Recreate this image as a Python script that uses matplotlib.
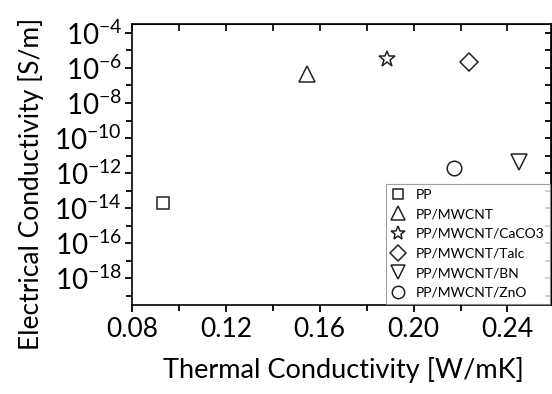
import numpy as np
import matplotlib.pyplot as plt
from matplotlib.ticker import MultipleLocator, FixedLocator, NullFormatter

labels = ["PP", "PP/MWCNT", "PP/MWCNT/CaCO3", "PP/MWCNT/Talc", "PP/MWCNT/BN", "PP/MWCNT/ZnO"]
thermal = [0.0932, 0.1545, 0.1885, 0.2234, 0.2451, 0.2174]
electrical = [2.0e-14, 4.8e-7, 3.2e-6, 2.2e-6, 4.3e-12, 2.0e-12]
markers = ["s", "^", "*", "D", "v", "o"]
sizes = [8.5, 11.5, 12, 9, 11.5, 10.5]

plt.rcParams.update({"font.family": ["Lato", "DejaVu Sans"], "font.size": 15,
                     "mathtext.fontset": "custom", "mathtext.rm": "Lato",
                     "mathtext.it": "Lato:italic", "mathtext.bf": "Lato:bold"})

fig = plt.figure(figsize=(5.52, 3.94), dpi=100)
ax = fig.add_axes([0.239, 0.226, 0.759, 0.713])

for x, y, m, s, lab in zip(thermal, electrical, markers, sizes, labels):
    ax.plot([x], [y], linestyle="none", marker=m, markersize=s, markerfacecolor="none",
            markeredgecolor="#222222", markeredgewidth=1.1, label=lab)

ax.set_yscale("log")
ax.set_xlim(0.08, 0.2585)
ax.set_ylim(3e-20, 3.2e-4)

ax.xaxis.set_major_locator(MultipleLocator(0.04))
ax.xaxis.set_minor_locator(MultipleLocator(0.02))
ax.xaxis.set_major_formatter(plt.FuncFormatter(lambda v, p: "{:.2f}".format(v)))
ax.yaxis.set_major_locator(FixedLocator([10.0 ** e for e in range(-18, -3, 2)]))
ax.yaxis.set_minor_locator(FixedLocator([10.0 ** e for e in range(-19, -3, 1)]))
ax.yaxis.set_major_formatter(plt.FuncFormatter(lambda v, p: r"$10^{%d}$" % round(np.log10(v))))
ax.yaxis.set_minor_formatter(NullFormatter())

ax.tick_params(axis="x", which="both", direction="out", labelsize=19)
ax.tick_params(axis="y", which="both", direction="out", labelsize=20, pad=2)
ax.tick_params(which="major", length=5, width=1.3)
ax.tick_params(which="minor", length=4, width=1.3)
for sp in ax.spines.values():
    sp.set_linewidth(1.2)

# inward ticks on the top and right sides
top = ax.secondary_xaxis("top")
top.xaxis.set_major_locator(MultipleLocator(0.04))
top.xaxis.set_minor_locator(MultipleLocator(0.02))
top.tick_params(which="both", direction="in", length=5, width=1.2, labeltop=False)
right = ax.secondary_yaxis("right")
right.yaxis.set_major_locator(FixedLocator([10.0 ** e for e in range(-18, -3, 2)]))
right.yaxis.set_minor_locator(FixedLocator([10.0 ** e for e in range(-19, -3, 1)]))
right.tick_params(which="both", direction="in", length=4, width=1.3, labelright=False)

ax.set_xlabel("Thermal Conductivity [W/mK]", fontsize=19.5)
ax.xaxis.set_label_coords(0.504, -0.185)
ax.set_ylabel("Electrical Conductivity [S/m]", fontsize=19)
ax.yaxis.set_label_coords(-0.21, 0.43)

leg = ax.legend(loc="lower right", borderaxespad=0.1, fontsize=10, fancybox=False,
                edgecolor="#888888", handlelength=1.0, handletextpad=0.8,
                labelspacing=0.55, borderpad=0.35, markerscale=0.85)
leg.get_frame().set_linewidth(0.8)

fig.savefig("out.png", dpi=100)
